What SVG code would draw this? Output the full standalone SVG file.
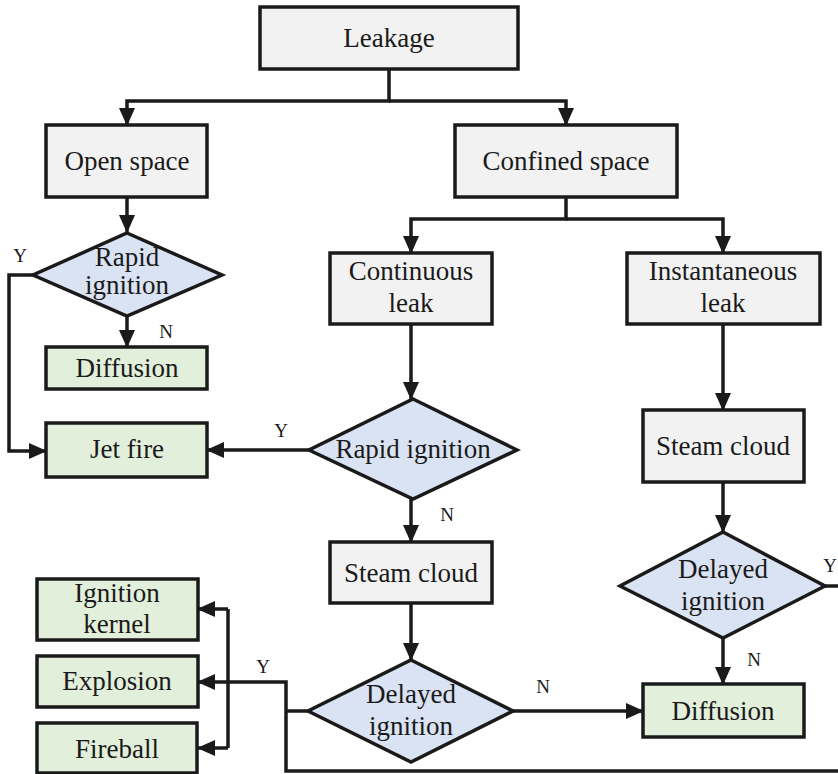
<svg xmlns="http://www.w3.org/2000/svg" width="838" height="774" viewBox="0 0 838 774">
<style>
.box{stroke:#1a1a1a;stroke-width:3.5}
.g{fill:#f2f2f2}
.b{fill:#dae3f3}
.gr{fill:#e2efda}
text{fill:#1a1a1a;text-anchor:middle}
.t{font-size:27px}
.l{font-size:19px}
.c{fill:none;stroke:#1a1a1a;stroke-width:3.5}
.a{marker-end:url(#ah)}
</style>
<defs>
<marker id="ah" markerUnits="userSpaceOnUse" markerWidth="18" markerHeight="16" refX="17" refY="8" orient="auto">
<path d="M0,0 L18,8 L0,16 z" fill="#1a1a1a"/>
</marker>
</defs>
<rect width="838" height="774" fill="#ffffff"/>
<g font-family="'Liberation Serif', 'DejaVu Serif', serif">
<g id="connectors">
<path class="c a" d="M389,69 V101 H127 V125"/>
<path class="c a" d="M389,101 H566 V125"/>
<path class="c a" d="M127,197 V232"/>
<path class="c a" d="M127,316 V347"/>
<path class="c a" d="M33,275 H9 V451 H46"/>
<path class="c a" d="M566,197 V219 H411 V253"/>
<path class="c a" d="M566,219 H723 V253"/>
<path class="c a" d="M411,324 V399"/>
<path class="c a" d="M309,450 H207"/>
<path class="c a" d="M411,499 V542"/>
<path class="c a" d="M411,603 V660"/>
<path class="c a" d="M513,711 H643"/>
<path class="c a" d="M723,324 V410"/>
<path class="c a" d="M723,482 V532"/>
<path class="c a" d="M723,638 V684"/>
<path class="c" d="M825,586 H838"/>
<path class="c a" d="M838,771 H286 V682 H198"/>
<path class="c" d="M308,711 H286"/>
<path class="c" d="M228,609 V748"/>
<path class="c a" d="M228,609 H198"/>
<path class="c a" d="M228,748 H198"/>
<text class="l" x="20" y="262">Y</text>
<text class="l" x="166" y="338">N</text>
<text class="l" x="281" y="437">Y</text>
<text class="l" x="447" y="521">N</text>
<text class="l" x="263" y="673">Y</text>
<text class="l" x="543" y="693">N</text>
<text class="l" x="754" y="666">N</text>
<text class="l" x="837" y="572" style="text-anchor:end">Y</text>
</g>
<g id="leakage"><rect class="box g" x="260" y="7" width="258" height="62"/><text class="t" x="389" y="47">Leakage</text></g>
<g id="open-space"><rect class="box g" x="46" y="125" width="161" height="72"/><text class="t" x="127" y="170">Open space</text></g>
<g id="confined-space"><rect class="box g" x="455" y="125" width="222" height="72"/><text class="t" x="566" y="170">Confined space</text></g>
<g id="rapid-ignition-1"><polygon class="box b" points="127,233 222,275 127,316 33,275"/><text class="t" x="127" y="266">Rapid</text><text class="t" x="127" y="294">ignition</text></g>
<g id="diffusion-1"><rect class="box gr" x="46" y="347" width="161" height="42"/><text class="t" x="127" y="377">Diffusion</text></g>
<g id="jet-fire"><rect class="box gr" x="46" y="423" width="161" height="54"/><text class="t" x="127" y="458">Jet fire</text></g>
<g id="continuous-leak"><rect class="box g" x="330" y="253" width="162" height="71"/><text class="t" x="411" y="280">Continuous</text><text class="t" x="411" y="312">leak</text></g>
<g id="instantaneous-leak"><rect class="box g" x="627" y="253" width="193" height="71"/><text class="t" x="723" y="280">Instantaneous</text><text class="t" x="723" y="312">leak</text></g>
<g id="rapid-ignition-2"><polygon class="box b" points="413,399 517,450 413,499 309,450"/><text class="t" x="413" y="458">Rapid ignition</text></g>
<g id="steam-cloud-1"><rect class="box g" x="330" y="542" width="162" height="61"/><text class="t" x="411" y="582">Steam cloud</text></g>
<g id="delayed-ignition-1"><polygon class="box b" points="411,660 513,711 411,762 308,711"/><text class="t" x="411" y="703">Delayed</text><text class="t" x="411" y="735">ignition</text></g>
<g id="steam-cloud-2"><rect class="box g" x="643" y="410" width="161" height="72"/><text class="t" x="723" y="455">Steam cloud</text></g>
<g id="delayed-ignition-2"><polygon class="box b" points="723,532 825,586 723,638 620,586"/><text class="t" x="723" y="578">Delayed</text><text class="t" x="723" y="610">ignition</text></g>
<g id="diffusion-2"><rect class="box gr" x="643" y="684" width="161" height="53"/><text class="t" x="723" y="720">Diffusion</text></g>
<g id="ignition-kernel"><rect class="box gr" x="37" y="579" width="161" height="61"/><text class="t" x="117" y="602">Ignition</text><text class="t" x="117" y="633">kernel</text></g>
<g id="explosion"><rect class="box gr" x="37" y="656" width="161" height="51"/><text class="t" x="117" y="690">Explosion</text></g>
<g id="fireball"><rect class="box gr" x="37" y="723" width="160" height="50"/><text class="t" x="117" y="758">Fireball</text></g>
</g>
</svg>
